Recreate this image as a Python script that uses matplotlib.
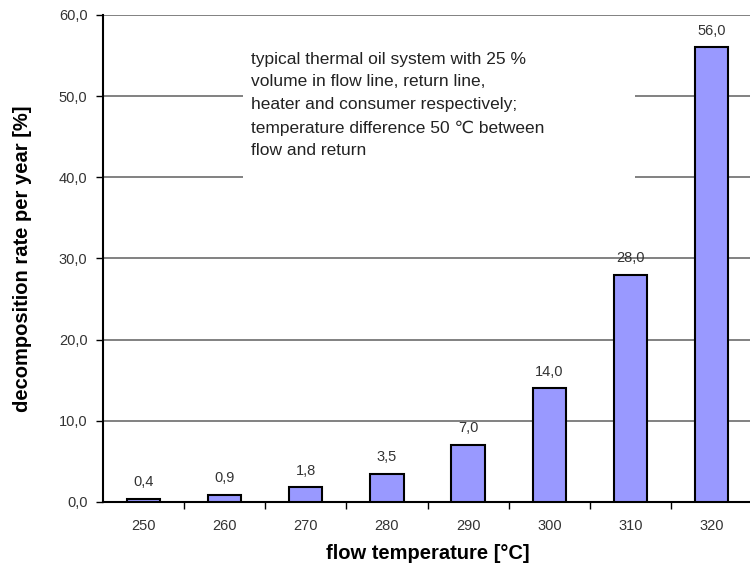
import numpy as np
import matplotlib.pyplot as plt
from matplotlib.patches import Rectangle

plt.rcParams['font.family'] = ['Liberation Sans', 'DejaVu Sans']

# data
temps = ['250', '260', '270', '280', '290', '300', '310', '320']
rates = [0.4, 0.9, 1.8, 3.5, 7.0, 14.0, 28.0, 56.0]
yticks = [0, 10, 20, 30, 40, 50, 60]

note = ('typical thermal oil system with 25 %\n'
        'volume in flow line, return line,\n'
        'heater and consumer respectively;\n'
        'temperature difference 50 \u2103 between\n'
        'flow and return')

fig = plt.figure(figsize=(7.5, 5.76), dpi=100)
ax = fig.add_axes([0.137, 0.1285, 0.866, 0.8455])

x = np.arange(len(temps))
ax.bar(x, rates, width=0.41, color='#9999ff', edgecolor='black', linewidth=1.5, zorder=3)

for xi, v in zip(x, rates):
    ax.annotate(f'{v:.1f}'.replace('.', ','), (xi, v), xytext=(0, 12),
                textcoords='offset points', ha='center', va='center',
                fontsize=10.5, color='#333333')

ax.set_xlim(-0.5, len(temps) - 0.5)
ax.set_ylim(0, 60)

# gridlines
ax.set_yticks(yticks)
ax.set_yticklabels([f'{t:.1f}'.replace('.', ',') for t in yticks], fontsize=10.5, color='#333333')
ax.yaxis.grid(True, color='#777777', linewidth=1.3, zorder=0)
ax.set_axisbelow(True)

ax.set_xticks(x)
ax.set_xticklabels(temps, fontsize=10.5, color='#333333')
ax.set_xticks(np.arange(0.5, len(temps) - 0.5), minor=True)
ax.tick_params(axis='x', which='major', length=0, pad=12)
ax.tick_params(axis='x', which='minor', length=5, width=1, direction='out')
ax.tick_params(axis='y', length=5, width=1, direction='out', pad=6)

for s in ['top', 'right']:
    ax.spines[s].set_visible(False)
ax.spines['left'].set_linewidth(1.5)
ax.spines['bottom'].set_linewidth(1.5)

# white box behind the note
ax.add_patch(Rectangle((0.216, 0.655), 0.603, 0.295, transform=ax.transAxes,
                       facecolor='white', edgecolor='none', zorder=1))
ax.text(0.228, 0.925, note, transform=ax.transAxes, ha='left', va='top',
        fontsize=12.5, color='#222222', linespacing=1.65, zorder=2)

ax.set_ylabel('decomposition rate per year [%]', fontsize=14.5, fontweight='bold', labelpad=19)
ax.set_xlabel('flow temperature [\u00b0C]', fontsize=14.5, fontweight='bold', labelpad=8)

fig.savefig('out.png', dpi=100)
